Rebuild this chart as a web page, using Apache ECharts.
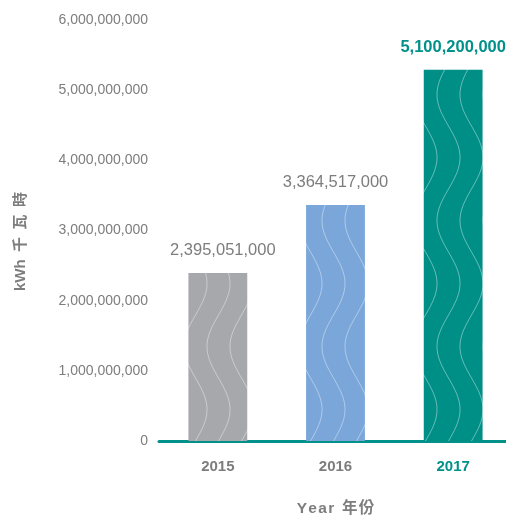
<!DOCTYPE html>
<html>
<head>
<meta charset="utf-8">
<script src="https://cdn.jsdelivr.net/npm/echarts@6/dist/echarts.min.js"></script>
<style>
  html, body { margin: 0; padding: 0; background: #fff; }
  #kwh-bar { width: 506px; height: 518px; }
</style>
</head>
<body>
<div id="kwh-bar"></div>
<script>
// data
var years = ['2015', '2016', '2017'];
var barValues = [2395051000, 3364517000, 5290000000];   // bar heights as drawn
var labelValues = [2395051000, 3364517000, 5100200000]; // printed figures
var yTicks = [0, 1000000000, 2000000000, 3000000000, 4000000000, 5000000000, 6000000000];

var barColors = ['#a7a8ab', '#7ba6d9', '#008f87'];
var teal = '#00918a';
var grey = '#7d7d7d';
var font = '"Liberation Sans", Arial, "Noto Sans CJK TC", sans-serif';

function withCommas(n) {
    return String(n).replace(/\B(?=(\d{3})+(?!\d))/g, ',');
}

// wavy white line texture for the bars
function wavePattern(bg) {
    var w = 23, h = 126;
    var c = document.createElement('canvas');
    c.width = w;
    c.height = h;
    var ctx = c.getContext('2d');
    ctx.fillStyle = bg;
    ctx.fillRect(0, 0, w, h);
    ctx.strokeStyle = 'rgba(255,255,255,0.4)';
    ctx.lineWidth = 1;
    for (var k = -1; k <= 1; k++) {
        ctx.beginPath();
        for (var y = 0; y <= h; y++) {
            var x = w / 2 + k * w + (w / 2) * Math.sin(2 * Math.PI * y / h);
            if (y === 0) ctx.moveTo(x, y); else ctx.lineTo(x, y);
        }
        ctx.stroke();
    }
    return c;
}

var dom = document.getElementById('kwh-bar');
var myChart = echarts.init(dom);

var seriesData = barValues.map(function (v, i) {
    var last = i === barValues.length - 1;
    return {
        value: v,
        itemStyle: { color: { image: wavePattern(barColors[i]), repeat: 'repeat' } },
        label: {
            color: last ? teal : grey,
            fontWeight: last ? 'bold' : 'normal',
            offset: i === 0 ? [5, 0] : [0, 0]
        }
    };
});

var option = {
    animation: false,
    textStyle: { fontFamily: font },
    grid: {
        left: 159,
        width: 353,
        top: 20,
        bottom: 77,
        outerBoundsMode: 'none'
    },
    xAxis: {
        type: 'category',
        data: years,
        name: 'Y\u200Ae\u200Aa\u200Ar\u2002年\u200A份',
        nameLocation: 'middle',
        nameGap: 60,
        nameTextStyle: { color: grey, fontSize: 15.5, fontWeight: 'bold', fontFamily: font },
        axisLine: { lineStyle: { color: teal, width: 3 } },
        axisTick: { show: false },
        axisLabel: {
            margin: 18,
            fontSize: 15,
            fontWeight: 'bold',
            fontFamily: font,
            color: function (value, index) {
                return index === years.length - 1 ? teal : grey;
            }
        }
    },
    yAxis: {
        type: 'value',
        min: yTicks[0],
        max: yTicks[yTicks.length - 1],
        interval: yTicks[1] - yTicks[0],
        name: 'kWh\u2002千\u2002瓦\u2002時',
        nameLocation: 'middle',
        nameGap: 131,
        nameTextStyle: { color: grey, fontSize: 15, fontWeight: 'bold', fontFamily: font, padding: [0, 22, 0, 0] },
        axisLine: { show: false },
        axisTick: { show: false },
        splitLine: { show: false },
        axisLabel: {
            margin: 11,
            fontSize: 14,
            color: grey,
            fontFamily: font,
            formatter: function (v) { return withCommas(v); }
        }
    },
    series: [
        {
            type: 'bar',
            barWidth: '50%',
            data: seriesData,
            label: {
                show: true,
                position: 'top',
                distance: 14,
                fontSize: 16.5,
                fontFamily: font,
                formatter: function (p) { return withCommas(labelValues[p.dataIndex]); }
            }
        }
    ]
};

if (option && typeof option === "object") {
    myChart.setOption(option, true);
}
</script>
</body>
</html>
